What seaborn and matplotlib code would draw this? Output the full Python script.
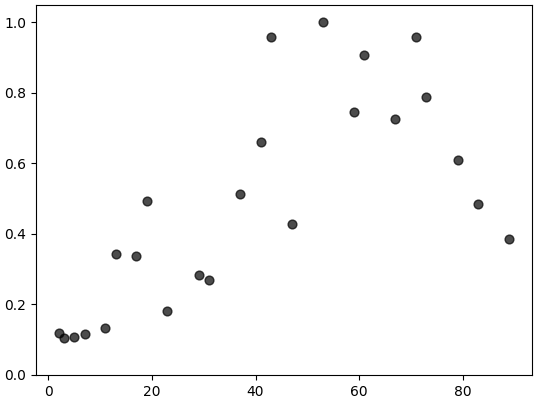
import numpy as np
import pandas as pd
import seaborn as sns
import matplotlib
matplotlib.use("Agg")
import matplotlib.pyplot as plt

x_vals = [2, 3, 5, 7, 11, 13, 17, 19, 23, 29, 31, 37, 41, 43, 47, 53, 59, 61, 67, 71, 73, 79, 83, 89]
y_vals = [0.119, 0.105, 0.108, 0.116, 0.133, 0.343, 0.337, 0.493, 0.181, 0.283, 0.269, 0.513,
          0.660, 0.960, 0.428, 1.000, 0.745, 0.909, 0.725, 0.958, 0.788, 0.609, 0.484, 0.385]

df = pd.DataFrame({"x": x_vals, "y": y_vals})

fig, ax = plt.subplots(figsize=(5.4, 4.04), dpi=100)
fig.subplots_adjust(left=0.067, right=0.985, top=0.988, bottom=0.072)
sns.scatterplot(data=df, x="x", y="y", color="black", alpha=0.7, edgecolor="black",
                linewidth=1, s=40, ax=ax)
ax.set_xlabel("")
ax.set_ylabel("")
ax.set_ylim(0, 1.05)
plt.savefig("out.png", dpi=100)
